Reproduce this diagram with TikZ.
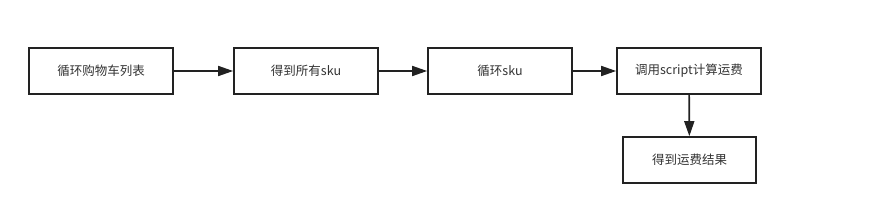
\documentclass[tikz,border=0pt]{standalone}
\usepackage{fontspec}
\setmainfont{Noto Sans CJK SC}
\usetikzlibrary{arrows.meta}
\definecolor{ln}{HTML}{222222}
\definecolor{tx}{HTML}{333333}
\tikzset{
  box/.style={draw=ln, line width=1.7pt, fill=white, minimum height=46pt, inner sep=0pt, text=tx, font=\fontsize{12.5pt}{14pt}\selectfont},
  conn/.style={draw=ln, line width=1.7pt, -{Triangle[length=15pt,width=10pt]}}
}
\begin{document}
\begin{tikzpicture}[x=1pt,y=-1pt]
\useasboundingbox (0,0) rectangle (871,222);
\node[box, minimum width=144pt] (a) at (101,71) {循环购物车列表};
\node[box, minimum width=144pt] (b) at (306,71) {得到所有sku};
\node[box, minimum width=144pt] (c) at (500,71) {循环sku};
\node[box, minimum width=144pt] (d) at (689,71) {调用script计算运费};
\node[box, minimum width=133pt] (e) at (689.5,160) {得到运费结果};
\draw[conn] (a) -- (b);
\draw[conn] (b) -- (c);
\draw[conn] (c) -- (d);
\draw[conn] (d) -- (e);
\end{tikzpicture}
\end{document}
